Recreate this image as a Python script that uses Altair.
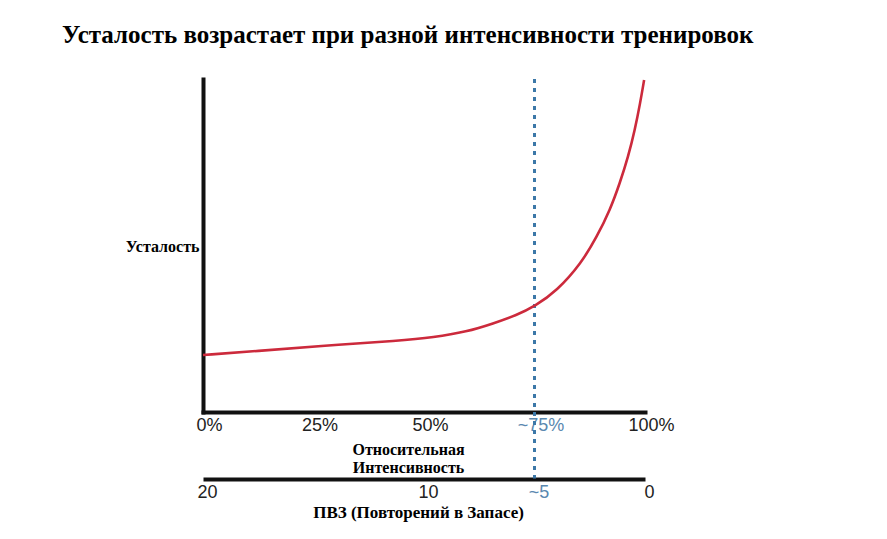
import altair as alt
import pandas as pd

# Curve: relative intensity (%) vs fatigue (arbitrary 0-100 scale)
intensity = [0, 12.1, 27.2, 44.6, 52.1, 59.7, 65.7, 71.0, 75.1, 80.0, 85.6, 89.1, 92.1, 94.3, 96.2, 97.7, 98.9, 99.8]
fatigue = [17.1, 18.3, 19.9, 21.4, 22.4, 24.1, 26.6, 29.1, 31.8, 36.3, 44.7, 52.6, 60.7, 68.7, 76.7, 84.7, 92.7, 99.7]

pct_ticks = [0, 25, 50, 75, 100]
pct_labels = ["0%", "25%", "50%", "~75%", "100%"]
rir_ticks = [20, 10, 5, 0]
rir_labels = ["20", "10", "~5", "0"]

marker_rir = [5]
marker_top = [100]
marker_bottom = [-20]

title_text = "Усталость возрастает при разной интенсивности тренировок"
y_title = "Усталость"
x1_title = ["Относительная", "Интенсивность"]
x2_title = "ПВЗ (Повторений в Запасе)"

curve_df = pd.DataFrame({"intensity": intensity, "fatigue": fatigue})
rule_df = pd.DataFrame({"rir": marker_rir, "top": marker_top, "bottom": marker_bottom})


def label_expr(ticks, labels):
    expr = "''"
    for t, l in reversed(list(zip(ticks, labels))):
        expr = f"datum.value == {t} ? '{l}' : ({expr})"
    return expr


BLUE_LABEL = "#5a88b0"
SERIF = "Liberation Serif"
SANS = "Liberation Sans"

y_scale = alt.Scale(domain=[0, 100], nice=False, zero=False)

y_axis = alt.Axis(
    title=y_title, titleAngle=0, titleAlign="right", titleBaseline="middle",
    titleX=-4, titleY=167, titleFont=SERIF, titleFontSize=16, titleFontWeight="bold",
    titleColor="black", domain=True, domainColor="#111111", domainWidth=4,
    domainCap="square", ticks=False, labels=False, grid=False,
)

x1_axis = alt.Axis(
    orient="bottom", values=pct_ticks, labelExpr=label_expr(pct_ticks, pct_labels),
    labelFont=SANS, labelFontSize=18, labelPadding=4, labelOffset=6, labelFlush=False,
    labelOverlap=False, labelBound=False,
    labelColor={"condition": {"test": "datum.value == 75", "value": BLUE_LABEL}, "value": "#222222"},
    ticks=False, tickSize=0, grid=False, domainColor="#111111", domainWidth=4, domainCap="square",
    title=x1_title, titleFont=SERIF, titleFontSize=16, titleFontWeight="bold", titleColor="black",
    titleAlign="center", titleBaseline="top", titleX=205, titleY=29, titleLineHeight=18,
)

x2_axis = alt.Axis(
    orient="bottom", offset=67, values=rir_ticks, labelExpr=label_expr(rir_ticks, rir_labels),
    labelFont=SANS, labelFontSize=18, labelPadding=4, labelOffset=4, labelFlush=False,
    labelOverlap=False, labelBound=False,
    labelColor={"condition": {"test": "datum.value == 5", "value": BLUE_LABEL}, "value": "#222222"},
    ticks=False, tickSize=0, grid=False, domainColor="#111111", domainWidth=4,
    title=x2_title, titleFont=SERIF, titleFontSize=17, titleFontWeight="bold", titleColor="black",
    titleAlign="center", titleBaseline="top", titleX=215, titleY=25,
)

rule = alt.Chart(rule_df).mark_rule(
    color="#3c78a8", strokeWidth=3, strokeDash=[4, 5]
).encode(
    x=alt.X("rir:Q", scale=alt.Scale(domain=[20, 0], nice=False, zero=False), axis=x2_axis),
    y=alt.Y("top:Q", scale=y_scale, axis=y_axis),
    y2="bottom:Q",
)

line = alt.Chart(curve_df).mark_line(
    color="#cc2a3c", strokeWidth=2.6, interpolate="basis"
).encode(
    x=alt.X("intensity:Q", scale=alt.Scale(domain=[0, 100], nice=False, zero=False), axis=x1_axis),
    y=alt.Y("fatigue:Q", scale=y_scale, axis=y_axis),
)

chart = alt.layer(rule, line).resolve_scale(x="independent").properties(
    width=442, height=333,
    autosize=alt.AutoSizeParams(type="none"),
    padding={"left": 195, "top": 71, "right": 230, "bottom": 120},
    background="white",
    title=alt.TitleParams(
        text=title_text, anchor="start", frame="group", dx=-141, offset=27,
        font=SERIF, fontSize=25, fontWeight="bold", color="black",
    ),
).configure_view(stroke=None)

chart.save("out.html", embed_options={"renderer": "svg", "actions": False})
